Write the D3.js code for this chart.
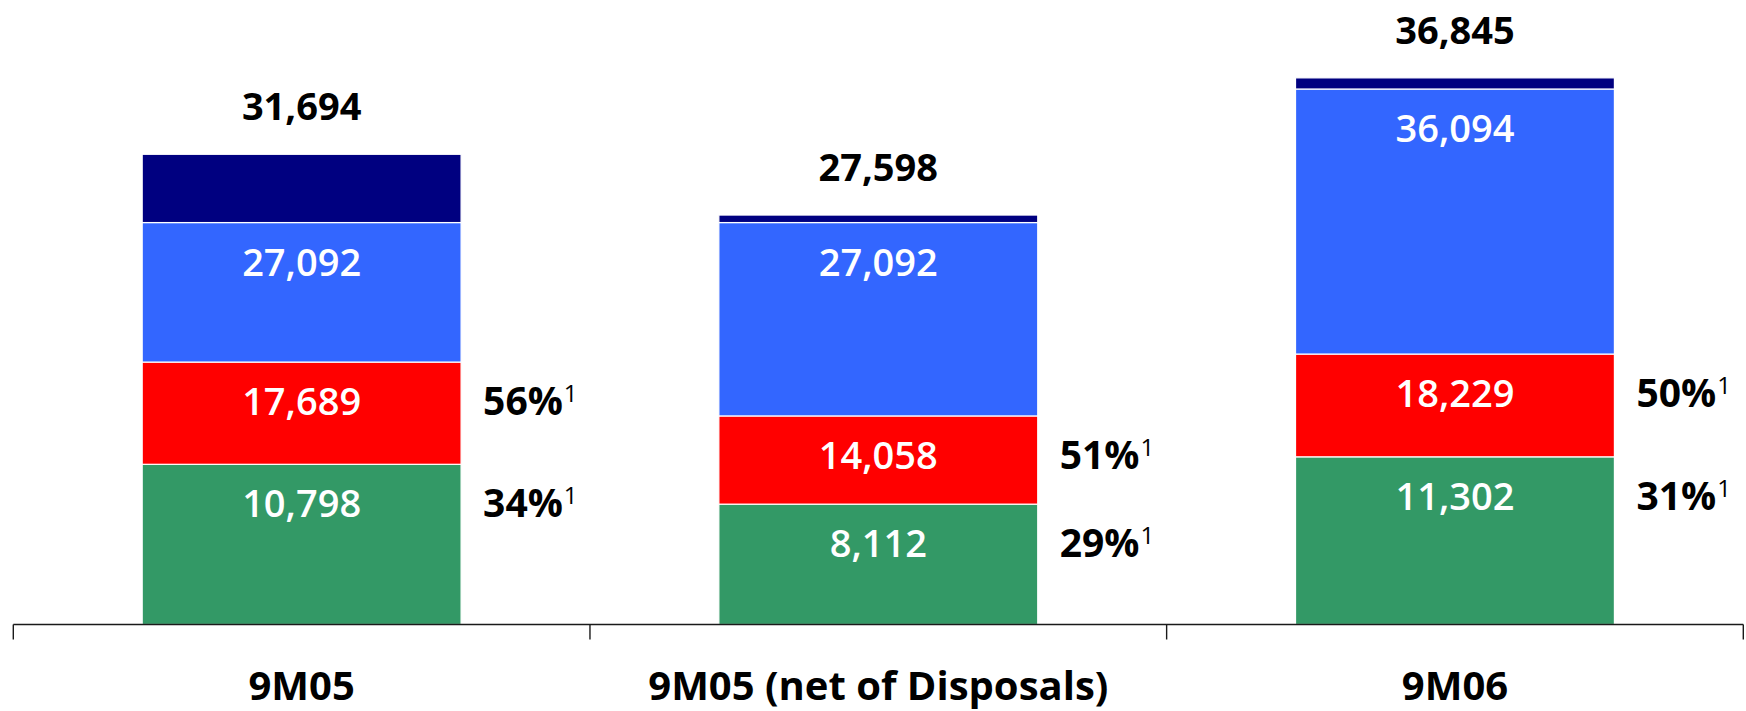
<!DOCTYPE html>
<html>
<head>
<meta charset="utf-8">
<script src="https://cdn.jsdelivr.net/npm/d3@7"></script>
<style>
  html, body { margin: 0; padding: 0; background: #fff; }
  svg { display: block; }
  text { font-family: "Open Sans", "Noto Sans", sans-serif; }
</style>
</head>
<body>
<svg id="chart" width="1746" height="711"></svg>
<script>
// ---- data (cumulative values as labelled in the chart) ----
const categories = ["9M05", "9M05 (net of Disposals)", "9M06"];
const greenTop   = [10798, 8112, 11302];
const redTop     = [17689, 14058, 18229];
const blueTop    = [27092, 27092, 36094];
const totals     = [31694, 27598, 36845];
const redShare   = ["56%", "51%", "50%"];
const greenShare = ["34%", "29%", "31%"];
const footnote   = "1";

const colors = { green: "#339966", red: "#FF0000", blue: "#3366FF", navy: "#000080" };

// ---- layout ----
const axisY = 624.5;
const x0 = 13.3, x1 = 1743.3;

const svg = d3.select("#chart");

const x = d3.scaleBand()
  .domain(categories)
  .range([x0, x1])
  .paddingInner(0.447)
  .paddingOuter(0.2235);

const xBand = d3.scaleBand().domain(categories).range([x0, x1]).padding(0);

const y = d3.scaleLinear().domain([0, 40000]).range([axisY, axisY - 40000 * 0.014836]);

const fmt = d3.format(",");

// build segment list
const layers = [
  { key: "green", tops: greenTop, label: true },
  { key: "red",   tops: redTop,   label: true },
  { key: "blue",  tops: blueTop,  label: true },
  { key: "navy",  tops: totals,   label: false }
];
const segs = [];
categories.forEach((c, i) => {
  let prev = 0;
  layers.forEach(l => {
    segs.push({ cat: c, i, key: l.key, y0: prev, y1: l.tops[i], label: l.label });
    prev = l.tops[i];
  });
});

// bars
svg.append("g").selectAll("rect")
  .data(segs)
  .join("rect")
  .attr("x", d => x(d.cat))
  .attr("width", x.bandwidth())
  .attr("y", d => y(d.y1))
  .attr("height", d => y(d.y0) - y(d.y1))
  .attr("fill", d => colors[d.key])
  .attr("stroke", "#ffffff")
  .attr("stroke-width", 1.2);

// segment labels (white)
svg.append("g").selectAll("text")
  .data(segs.filter(d => d.label))
  .join("text")
  .attr("x", d => x(d.cat) + x.bandwidth() / 2)
  .attr("y", d => y(d.y1) + 53)
  .attr("text-anchor", "middle")
  .attr("fill", "#ffffff")
  .attr("font-size", 38)
  .attr("font-weight", 600)
  .text(d => fmt(d.y1));

// totals (black bold above bars)
svg.append("g").selectAll("text")
  .data(categories)
  .join("text")
  .attr("x", d => x(d) + x.bandwidth() / 2)
  .attr("y", (d, i) => y(totals[i]) - 34)
  .attr("text-anchor", "middle")
  .attr("fill", "#000")
  .attr("font-size", 38)
  .attr("font-weight", 700)
  .text((d, i) => fmt(totals[i]));

// share labels to the right of bars
function shareLabels(values, tops) {
  const t = svg.append("g").selectAll("text")
    .data(categories)
    .join("text")
    .attr("x", d => x(d) + x.bandwidth() + 22)
    .attr("y", (d, i) => y(tops[i]) + 53)
    .attr("text-anchor", "start")
    .attr("fill", "#000")
    .attr("font-size", 39)
    .attr("font-weight", 700);
  t.append("tspan").text((d, i) => values[i]);
  t.append("tspan")
    .attr("font-size", 24)
    .attr("font-weight", 400)
    .attr("dx", 1)
    .attr("dy", -13)
    .text(footnote);
}
shareLabels(redShare, redTop);
shareLabels(greenShare, greenTop);

// axis
const axis = svg.append("g");
axis.append("line")
  .attr("x1", x0).attr("x2", x1)
  .attr("y1", axisY).attr("y2", axisY)
  .attr("stroke", "#1a1a1a").attr("stroke-width", 1.4);
const bounds = categories.map(c => xBand(c)).concat([x1]);
axis.selectAll("line.tick")
  .data(bounds)
  .join("line")
  .attr("class", "tick")
  .attr("x1", d => d).attr("x2", d => d)
  .attr("y1", axisY).attr("y2", axisY + 15)
  .attr("stroke", "#1a1a1a").attr("stroke-width", 1.4);

// category labels
svg.append("g").selectAll("text")
  .data(categories)
  .join("text")
  .attr("x", d => xBand(d) + xBand.bandwidth() / 2)
  .attr("y", 700)
  .attr("text-anchor", "middle")
  .attr("fill", "#000")
  .attr("font-size", 40)
  .attr("font-weight", 700)
  .text(d => d);
</script>
</body>
</html>
